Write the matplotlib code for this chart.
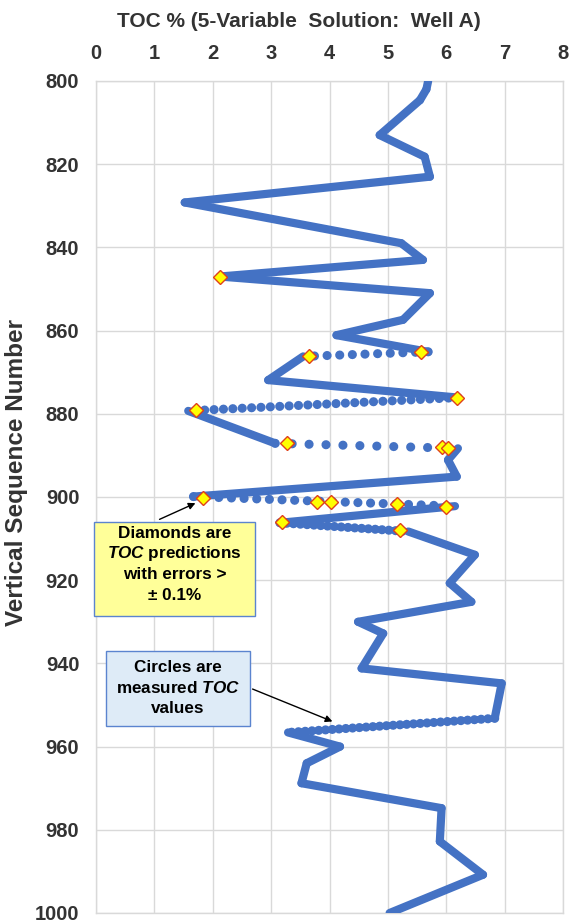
import numpy as np
import matplotlib
matplotlib.use('Agg')
import matplotlib.pyplot as plt
from matplotlib.patches import Rectangle

plt.rcParams['font.family'] = ['Liberation Sans', 'DejaVu Sans']
plt.rcParams['lines.scale_dashes'] = False
plt.rcParams['mathtext.fontset'] = 'custom'
plt.rcParams['mathtext.it'] = 'Liberation Sans:italic:bold'
plt.rcParams['mathtext.rm'] = 'Liberation Sans:bold'
plt.rcParams['mathtext.bf'] = 'Liberation Sans:bold'

# ---- data ----
depth = [800.0, 802.0, 804.6, 813.0, 818.2, 823.0, 829.2, 839.0, 843.0, 847.0,
         851.0, 857.4, 861.1, 865.1, 866.2, 871.9, 876.1, 879.3, 887.1, 888.3,
         891.1, 895.1, 899.9, 902.2, 906.2, 908.3, 913.9, 920.7, 925.2, 930.0,
         932.8, 941.2, 944.8, 953.2, 956.6, 960.0, 964.0, 968.8, 974.8, 982.8,
         990.8, 1000.0]
toc = [5.69, 5.66, 5.55, 4.86, 5.63, 5.72, 1.52, 5.23, 5.60, 2.12,
       5.72, 5.26, 4.12, 5.69, 3.55, 2.95, 6.20, 1.58, 3.07, 6.20,
       6.03, 6.18, 1.67, 6.15, 3.15, 5.35, 6.49, 6.06, 6.43, 4.49,
       4.92, 4.55, 6.95, 6.83, 3.29, 4.18, 3.61, 3.52, 5.92, 5.89,
       6.63, 5.03]

diamond_depth = [847.0, 865.1, 866.1, 876.1, 879.1, 887.1, 887.9, 888.3,
                 900.3, 901.1, 901.1, 901.7, 902.3, 905.9, 907.9]
diamond_toc = [2.12, 5.57, 3.65, 6.18, 1.72, 3.27, 5.92, 6.03,
               1.83, 3.78, 4.02, 5.16, 5.99, 3.18, 5.21]

x_ticks = [0, 1, 2, 3, 4, 5, 6, 7, 8]
y_ticks = [800, 820, 840, 860, 880, 900, 920, 940, 960, 980, 1000]

title = "TOC % (5-Variable  Solution:  Well A)"
ylabel = "Vertical Sequence Number"

# ---- figure ----
W, H, DPI = 570, 924, 100
fig = plt.figure(figsize=(W / DPI, H / DPI), dpi=DPI)
L, R, T, B = 96, 563, 81, 913
ax = fig.add_axes([L / W, 1 - B / H, (R - L) / W, (B - T) / H])
ax.set_xlim(0, 8)
ax.set_ylim(1000, 800)
ax.xaxis.tick_top()
ax.set_xticks(x_ticks)
ax.set_yticks(y_ticks)
ax.tick_params(length=0, labelsize=14.5, labelcolor='#333333')
ax.tick_params(axis='x', pad=13)
ax.tick_params(axis='y', pad=12)
for lab in ax.get_xticklabels() + ax.get_yticklabels():
    lab.set_fontweight('bold')
ax.grid(True, color='#D9D9D9', lw=1.0)
ax.set_axisbelow(True)
for s in ax.spines.values():
    s.set_color('#D9D9D9')
    s.set_linewidth(1.0)

blue = '#4472C4'
lw = 5.9
dot_lw = 6.6
density = 9.0  # measured samples per sequence unit (visual density)
pts = ax.transData.transform(np.column_stack([toc, depth]))
for i in range(len(depth) - 1):
    seg_len = np.hypot(*(pts[i + 1] - pts[i]))
    n = density * abs(depth[i + 1] - depth[i])
    spacing = seg_len / max(n, 1.0)
    xs, ys = toc[i:i + 2], depth[i:i + 2]
    if spacing < 6.5:
        ax.plot(xs, ys, color=blue, lw=lw, solid_capstyle='round',
                solid_joinstyle='round', zorder=3)
    else:
        gap = spacing * 72.0 / DPI
        ax.plot(xs, ys, color=blue, lw=dot_lw, linestyle=(0, (0.01, gap)),
                dash_capstyle='round', zorder=3)

ax.plot(diamond_toc, diamond_depth, linestyle='none', marker='D', ms=7.5,
        mfc='#FFFF00', mec='#E0401A', mew=1.0, zorder=4)

# ---- title and axis label ----
fig.text(299 / W, 1 - 12 / H, title, ha='center', va='top', fontsize=15,
         fontweight='bold', color='#333333')
fig.text(17 / W, 1 - 473 / H, ylabel, ha='center', va='center', rotation=90,
         fontsize=17.5, fontweight='bold', color='#333333')


def fp(x, y):
    return (x / W, 1 - y / H)


# ---- annotation boxes ----
box1 = Rectangle(fp(94, 616), (255 - 94) / W, (616 - 521.7) / H,
                 transform=fig.transFigure, facecolor='#FFFF99',
                 edgecolor='#5B84CF', lw=1.0, zorder=5)
fig.add_artist(box1)
lines1 = ["Diamonds are", r"$\mathit{TOC}$ predictions", "with errors >", "\u00b1 0.1%"]
for k, t in enumerate(lines1):
    fig.text(*fp(174.5, 533 + 20.7 * k), t, ha='center', va='center',
             fontsize=12.3, fontweight='bold', color='black', zorder=6)

box2 = Rectangle(fp(106, 726), (250 - 106) / W, (726 - 651) / H,
                 transform=fig.transFigure, facecolor='#DEEBF7',
                 edgecolor='#5B84CF', lw=1.0, zorder=5)
fig.add_artist(box2)
lines2 = ["Circles are", r"measured $\mathit{TOC}$", "values"]
for k, t in enumerate(lines2):
    fig.text(*fp(178, 668 + 20.3 * k), t, ha='center', va='center',
             fontsize=12.3, fontweight='bold', color='black', zorder=6)

arrow_kw = dict(arrowstyle='-|>', color='black', lw=1.0, mutation_scale=10)
ax.annotate('', xy=fp(198, 502), xycoords='figure fraction',
            xytext=fp(157, 520.5), textcoords='figure fraction',
            arrowprops=arrow_kw, zorder=6)
ax.annotate('', xy=fp(335, 722.5), xycoords='figure fraction',
            xytext=fp(250, 688), textcoords='figure fraction',
            arrowprops=arrow_kw, zorder=6)

fig.savefig('out.png', dpi=DPI)
